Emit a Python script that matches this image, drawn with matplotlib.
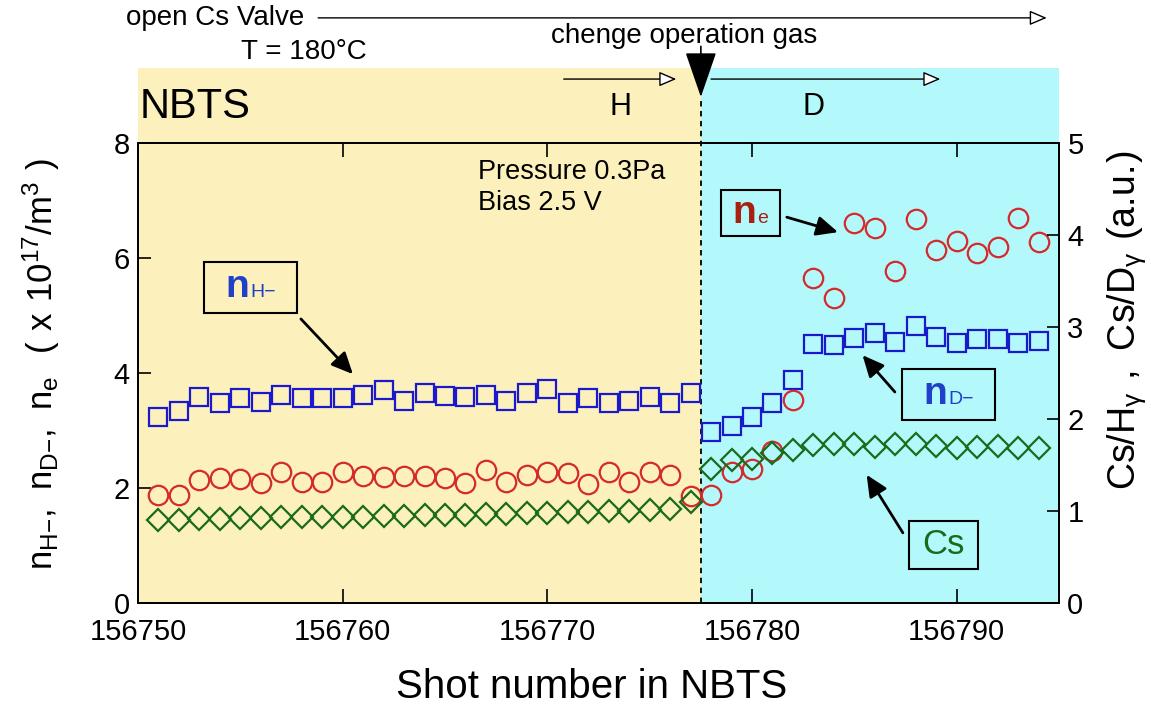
import numpy as np
import matplotlib as mpl
import matplotlib.pyplot as plt
from matplotlib.offsetbox import AnnotationBbox, HPacker, TextArea, DrawingArea

mpl.rcParams.update({
    "font.family": ["Liberation Sans", "DejaVu Sans"],
    "font.size": 21,
    "axes.linewidth": 1.3,
    "xtick.direction": "in",
    "ytick.direction": "in",
    "xtick.major.size": 10,
    "ytick.major.size": 9,
    "xtick.major.width": 1.2,
    "ytick.major.width": 1.2,
    "xtick.major.pad": 10.5,
    "ytick.major.pad": 6,
})

# --- data ---
shot_h = np.arange(156751, 156778)   # H operation
shot_d = np.arange(156778, 156795)   # D operation
shot_change = 156777.5

nh_minus = [3.24, 3.34, 3.59, 3.47, 3.56, 3.50, 3.61, 3.56, 3.56, 3.56, 3.62, 3.70, 3.52, 3.65,
            3.60, 3.59, 3.62, 3.52, 3.65, 3.72, 3.48, 3.56, 3.47, 3.52, 3.58, 3.48, 3.65]
ne_h = [1.88, 1.88, 2.14, 2.17, 2.15, 2.08, 2.27, 2.11, 2.11, 2.27, 2.21, 2.20, 2.21, 2.21,
        2.17, 2.09, 2.31, 2.11, 2.23, 2.27, 2.26, 2.07, 2.27, 2.11, 2.27, 2.23, 1.86]
cs_h = [0.90, 0.90, 0.91, 0.91, 0.92, 0.92, 0.93, 0.93, 0.94, 0.94, 0.94, 0.95, 0.95, 0.96,
        0.96, 0.96, 0.97, 0.97, 0.98, 0.98, 0.99, 0.99, 1.00, 1.00, 1.01, 1.02, 1.10]

nd_minus = [2.97, 3.07, 3.24, 3.48, 3.87, 4.50, 4.49, 4.61, 4.69, 4.54, 4.81, 4.63, 4.52,
            4.59, 4.60, 4.53, 4.56]
ne_d = [1.88, 2.28, 2.33, 2.65, 3.53, 5.66, 5.31, 6.61, 6.53, 5.78, 6.67, 6.14, 6.30,
        6.09, 6.19, 6.69, 6.28]
cs_d = [1.46, 1.55, 1.56, 1.63, 1.66, 1.72, 1.73, 1.73, 1.70, 1.73, 1.73, 1.71, 1.68,
        1.70, 1.71, 1.68, 1.68]

x_ticks = [156750, 156760, 156770, 156780, 156790]
y_left_ticks = [0, 2, 4, 6, 8]
y_right_ticks = [0, 1, 2, 3, 4, 5]

TAN = "#FCF0BD"
CYAN = "#B3F9FC"
BLUE = "#1a1acc"
RED = "#d42a2a"
GREEN = "#1a6b1a"


def label_box(ax, xy, big, small, color, spacer, big_size=28, small_size=14,
              big_weight="bold", pad=0.55):
    parts = [DrawingArea(spacer, 1),
             TextArea(big, textprops=dict(color=color, fontsize=big_size,
                                          fontweight=big_weight))]
    if small:
        parts.append(TextArea(small, textprops=dict(color=color, fontsize=small_size)))
    parts.append(DrawingArea(spacer, 1))
    pack = HPacker(children=parts, align="baseline", pad=0, sep=1)
    ab = AnnotationBbox(pack, xy, xycoords="data", frameon=True, pad=pad, fontsize=10,
                        bboxprops=dict(ec="black", lw=1.5, fc="none"), zorder=6)
    ax.add_artist(ab)


def pointer(ax, start, end):
    ax.annotate("", xy=end, xytext=start, xycoords="data", textcoords="data",
                arrowprops=dict(arrowstyle="-|>,head_length=0.65,head_width=0.3",
                                color="black", lw=2, mutation_scale=20,
                                shrinkA=0, shrinkB=0), zorder=6)


fig = plt.figure(figsize=(11.51, 7.09), dpi=100)
ax = fig.add_axes([0.1199, 0.1495, 0.8002, 0.6488])
ax2 = ax.twinx()

x_lo, x_hi = 156750, 156795
ax.set_xlim(x_lo, x_hi)
ax.set_ylim(0, 8)
ax2.set_ylim(0, 5)

# background bands (extend above the frame)
ax.axvspan(x_lo, shot_change, ymin=0, ymax=1.163, color=TAN, lw=0, clip_on=False, zorder=0)
ax.axvspan(shot_change, x_hi, ymin=0, ymax=1.163, color=CYAN, lw=0, clip_on=False, zorder=0)
ax.axvline(shot_change, ymin=0, ymax=1.10, color="black", ls=(0, (3, 2.5)), lw=1.3,
           clip_on=False, zorder=1)

mk = dict(ls="none", mfc="none", mew=1.6)
ax.plot(shot_h, nh_minus, marker="s", ms=13.4, mec=BLUE, zorder=3, **mk)
ax.plot(shot_d, nd_minus, marker="s", ms=13.4, mec=BLUE, zorder=3, **mk)
ax.plot(shot_h, ne_h, marker="o", ms=14, mec=RED, zorder=3, **mk)
ax.plot(shot_d, ne_d, marker="o", ms=14, mec=RED, zorder=3, **mk)
ax2.plot(shot_h, cs_h, marker="D", ms=11.3, mec=GREEN, zorder=3, **mk)
ax2.plot(shot_d, cs_d, marker="D", ms=11.3, mec=GREEN, zorder=3, **mk)

ax.set_xticks(x_ticks)
ax.set_xticklabels([str(t) for t in x_ticks])
ax.set_yticks(y_left_ticks)
ax2.set_yticks(y_right_ticks)
ax.tick_params(axis="x", top=True, bottom=True)
ax.tick_params(axis="y", left=True, right=False)
ax2.tick_params(axis="y", right=True, left=False)
ax.patch.set_visible(False)

ax.set_xlabel("Shot number in NBTS", fontsize=29)
ax.xaxis.set_label_coords(0.493, -0.141)
ax.set_ylabel(r"$\mathregular{n_{H{-}},\ n_{D{-}},\ n_e\ \ (\ x\ 10^{17}/m^3\ )}$",
              fontsize=25)
ax.yaxis.set_label_coords(-0.083, 0.52)
ax2.set_ylabel(r"$\mathregular{Cs/H_{\gamma}\ ,\ Cs/D_{\gamma}\ (a.\!u.\!)}$", fontsize=27)
ax2.yaxis.set_label_coords(1.05, 0.615)

# text in the plot
ax.text(156766.6, 7.50, "Pressure 0.3Pa", fontsize=19.5, va="center", ha="left")
ax.text(156766.6, 6.96, "Bias 2.5 V", fontsize=19.5, va="center", ha="left")

label_box(ax, (156755.5, 5.49), "n", "H\u2212", "#2040c8", spacer=9)
pointer(ax, (156757.96, 4.94), (156760.5, 3.98))
label_box(ax, (156779.92, 6.78), "n", "e", "#a82010", spacer=4, pad=0.35)
pointer(ax, (156781.7, 6.71), (156784.2, 6.45))
label_box(ax, (156789.6, 3.63), "n", "D\u2212", "#2040c8", spacer=9)
pointer(ax, (156786.98, 3.67), (156785.4, 4.31))
label_box(ax, (156789.37, 1.01), "Cs", None, "#1a6a1a", spacer=3, big_size=25,
          big_weight="normal")
pointer(ax, (156787.37, 1.22), (156785.6, 2.23))

# annotations above the frame: x in data, y in axes fraction
trans = ax.get_xaxis_transform()
open_head = dict(arrowstyle="-|>,head_length=0.7,head_width=0.3", fc="white", ec="black",
                 lw=1.0, mutation_scale=15, shrinkA=0, shrinkB=0)
ax.text(156749.4, 1.272, "open Cs Valve", transform=trans, ha="left", va="center",
        fontsize=20, clip_on=False)
ax.annotate("", xy=(156794.4, 1.272), xytext=(156758.8, 1.272), xycoords=trans,
            textcoords=trans, arrowprops=open_head, annotation_clip=False)
ax.text(156758.1, 1.198, "T = 180\u00b0C", transform=trans, ha="center", va="center",
        fontsize=20, clip_on=False)
ax.text(156776.7, 1.232, "chenge operation gas", transform=trans, ha="center",
        va="center", fontsize=20, clip_on=False)
ax.annotate("", xy=(shot_change, 1.10), xytext=(shot_change, 1.21), xycoords=trans,
            textcoords=trans, annotation_clip=False,
            arrowprops=dict(arrowstyle="-|>,head_length=1.45,head_width=0.5", color="black",
                            lw=1.2, mutation_scale=20, shrinkA=0, shrinkB=0))
ax.annotate("", xy=(156776.3, 1.139), xytext=(156770.8, 1.139), xycoords=trans,
            textcoords=trans, arrowprops=open_head, annotation_clip=False)
ax.annotate("", xy=(156789.2, 1.139), xytext=(156778.0, 1.139), xycoords=trans,
            textcoords=trans, arrowprops=open_head, annotation_clip=False)
ax.text(156773.55, 1.078, "H", transform=trans, ha="center", va="center", fontsize=22,
        clip_on=False)
ax.text(156783.0, 1.078, "D", transform=trans, ha="center", va="center", fontsize=22,
        clip_on=False)
ax.text(156750.1, 1.078, "NBTS", transform=trans, ha="left", va="center", fontsize=30,
        clip_on=False)

fig.savefig("out.png", dpi=100)
